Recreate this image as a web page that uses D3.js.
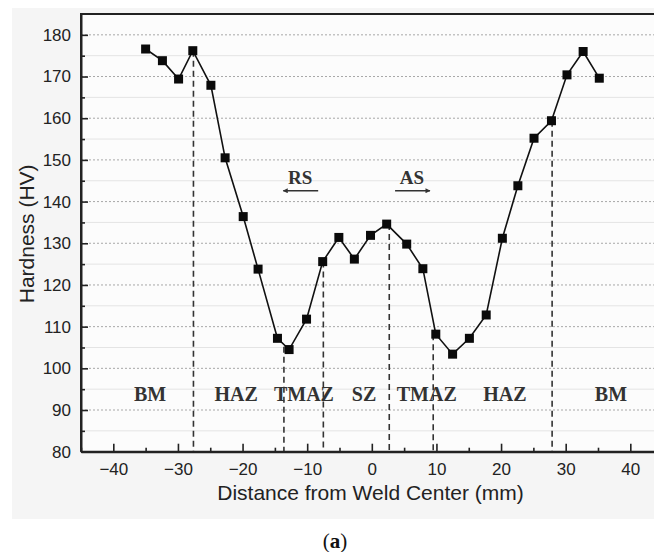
<!DOCTYPE html>
<html>
<head>
<meta charset="utf-8">
<script src="https://cdn.jsdelivr.net/npm/d3@7"></script>
<style>
  html, body { margin: 0; padding: 0; background: #ffffff; }
  svg { display: block; }
</style>
</head>
<body>
<script>
// ---- data ----
const distance = [-35.0, -32.4, -29.9, -27.7, -24.9, -22.7, -19.9, -17.6, -14.6, -12.8, -10.1, -7.6, -5.1, -2.7, -0.2, 2.3, 5.4, 7.9, 9.9, 12.5, 15.1, 17.7, 20.2, 22.6, 25.1, 27.8, 30.2, 32.7, 35.2];
const hardness = [176.6, 173.8, 169.4, 176.2, 167.9, 150.5, 136.4, 123.8, 107.2, 104.5, 111.8, 125.6, 131.4, 126.2, 131.9, 134.6, 129.8, 123.9, 108.2, 103.4, 107.2, 112.8, 131.2, 143.8, 155.2, 159.4, 170.4, 176.0, 169.6];
const boundaryX = [-27.6, -13.6, -7.5, 2.7, 9.5, 27.9];
const boundaryTop = [176.2, 105.2, 125.6, 134.6, 108.2, 159.4];
const zoneNames = ["BM", "HAZ", "TMAZ", "SZ", "TMAZ", "HAZ", "BM"];
const zoneX = [-34.3, -21.0, -10.5, -1.2, 8.5, 20.6, 37.0];
const zoneY = 92.2;
const sideNames = ["RS", "AS"];
const sideX = [-11.1, 6.2];
const sideY = 144.2;
const arrowFrom = [-8.3, 3.6];
const arrowTo = [-13.7, 9.0];
const arrowY = 142.6;
const xTicks = [-40, -30, -20, -10, 0, 10, 20, 30, 40];
const xMinorTicks = [-45, -35, -25, -15, -5, 5, 15, 25, 35, 45];
const yTicks = [80, 90, 100, 110, 120, 130, 140, 150, 160, 170, 180];
const yMinorTicks = [85, 95, 105, 115, 125, 135, 145, 155, 165, 175];
const xTitle = "Distance from Weld Center (mm)";
const yTitle = "Hardness (HV)";
const caption = "a";

// ---- layout ----
const W = 654, H = 552;
const svg = d3.select("body").append("svg").attr("width", W).attr("height", H);

svg.append("rect").attr("x", 12).attr("y", 8).attr("width", W - 12).attr("height", 511).attr("fill", "#f5f5f5");

const pLeft = 81, pTop = 14, pBottom = 451.7;
const x = d3.scaleLinear().domain([-45, 45]).range([pLeft, pLeft + 90 * 6.4625]);
const y = d3.scaleLinear().domain([80, 185]).range([pBottom, pTop]);

svg.append("rect").attr("x", pLeft).attr("y", pTop).attr("width", W - pLeft).attr("height", pBottom - pTop).attr("fill", "#fcfcfc");

// grid
const g = svg.append("g");
g.selectAll("line.minor").data(yMinorTicks).join("line").attr("class", "minor")
  .attr("x1", pLeft).attr("x2", W)
  .attr("y1", d => y(d)).attr("y2", d => y(d))
  .attr("stroke", "#e4e4e4").attr("stroke-width", 1);
g.selectAll("line.major").data(yTicks.filter(d => d > 80)).join("line").attr("class", "major")
  .attr("x1", pLeft).attr("x2", W)
  .attr("y1", d => y(d)).attr("y2", d => y(d))
  .attr("stroke", "#a8a8a8").attr("stroke-width", 1).attr("stroke-dasharray", "2,2");

// boundary dashed lines
svg.selectAll("line.bnd").data(boundaryX).join("line").attr("class", "bnd")
  .attr("x1", d => x(d)).attr("x2", d => x(d))
  .attr("y1", (d, i) => y(boundaryTop[i])).attr("y2", pBottom)
  .attr("stroke", "#333").attr("stroke-width", 1.6).attr("stroke-dasharray", "6,4");

// axes
const axisFont = "Liberation Sans, Arial, sans-serif";
const xAxis = svg.append("g").attr("transform", `translate(0,${pBottom})`)
  .call(d3.axisBottom(x).tickValues(xTicks).tickSizeInner(-8).tickSizeOuter(0).tickPadding(11));
const xMinor = svg.append("g").attr("transform", `translate(0,${pBottom})`)
  .call(d3.axisBottom(x).tickValues(xMinorTicks).tickSizeInner(-4).tickSizeOuter(0).tickFormat(""));
const yAxis = svg.append("g").attr("transform", `translate(${pLeft},0)`)
  .call(d3.axisLeft(y).tickValues(yTicks).tickSizeInner(-7).tickSizeOuter(0).tickPadding(10));
const yMinor = svg.append("g").attr("transform", `translate(${pLeft},0)`)
  .call(d3.axisLeft(y).tickValues(yMinorTicks).tickSizeInner(-4).tickSizeOuter(0).tickFormat(""));
[xAxis, xMinor, yAxis, yMinor].forEach(a => {
  a.select(".domain").attr("stroke", "#222").attr("stroke-width", 2);
  a.selectAll(".tick line").attr("stroke", "#222").attr("stroke-width", 1.6);
  a.selectAll(".tick text").attr("fill", "#222").attr("font-family", axisFont).attr("font-size", 17);
});
xAxis.select(".domain").attr("d", `M${pLeft},0H${W}`);
yAxis.select(".domain").attr("d", `M0,${pBottom}V${pTop}`);
// top border
svg.append("line").attr("x1", pLeft - 1).attr("x2", W).attr("y1", pTop).attr("y2", pTop)
  .attr("stroke", "#222").attr("stroke-width", 2);

// data line and markers
svg.append("path").datum(distance.map((d, i) => [d, hardness[i]]))
  .attr("fill", "none").attr("stroke", "#111").attr("stroke-width", 1.6)
  .attr("d", d3.line().x(d => x(d[0])).y(d => y(d[1])));
const ms = 9;
svg.selectAll("rect.pt").data(distance).join("rect").attr("class", "pt")
  .attr("x", d => x(d) - ms / 2).attr("y", (d, i) => y(hardness[i]) - ms / 2)
  .attr("width", ms).attr("height", ms).attr("fill", "#0a0a0a");

// zone labels
const serif = "Liberation Serif, Times New Roman, serif";
svg.selectAll("text.zone").data(zoneNames).join("text").attr("class", "zone")
  .attr("x", (d, i) => x(zoneX[i])).attr("y", y(zoneY))
  .attr("text-anchor", "middle").attr("font-family", serif).attr("font-weight", "bold")
  .attr("font-size", 20).attr("fill", "#333").text(d => d);

// RS / AS
svg.selectAll("text.side").data(sideNames).join("text").attr("class", "side")
  .attr("x", (d, i) => x(sideX[i])).attr("y", y(sideY))
  .attr("text-anchor", "middle").attr("font-family", serif).attr("font-weight", "bold")
  .attr("font-size", 19).attr("fill", "#333").text(d => d);
svg.append("defs").append("marker").attr("id", "ah")
  .attr("viewBox", "0 0 10 10").attr("refX", 9).attr("refY", 5)
  .attr("markerWidth", 8).attr("markerHeight", 5).attr("markerUnits", "userSpaceOnUse")
  .attr("orient", "auto")
  .append("path").attr("d", "M0,0L10,5L0,10Z").attr("fill", "#333");
svg.selectAll("line.arr").data(arrowFrom).join("line").attr("class", "arr")
  .attr("x1", d => x(d)).attr("x2", (d, i) => x(arrowTo[i]))
  .attr("y1", y(arrowY)).attr("y2", y(arrowY))
  .attr("stroke", "#333").attr("stroke-width", 1.4).attr("marker-end", "url(#ah)");

// axis titles
svg.append("text").attr("x", 370.5).attr("y", 500).attr("text-anchor", "middle")
  .attr("font-family", axisFont).attr("font-size", 21).attr("fill", "#222").text(xTitle);
svg.append("text").attr("transform", `translate(33.5,${(pTop + pBottom) / 2 + 1}) rotate(-90)`)
  .attr("text-anchor", "middle").attr("font-family", axisFont).attr("font-size", 21)
  .attr("fill", "#222").text(yTitle);

// caption
const cap = svg.append("text").attr("x", 335).attr("y", 548).attr("text-anchor", "middle")
  .attr("font-family", serif).attr("font-size", 21).attr("fill", "#111");
cap.append("tspan").text("(");
cap.append("tspan").attr("font-weight", "bold").text(caption);
cap.append("tspan").text(")");
</script>
</body>
</html>
